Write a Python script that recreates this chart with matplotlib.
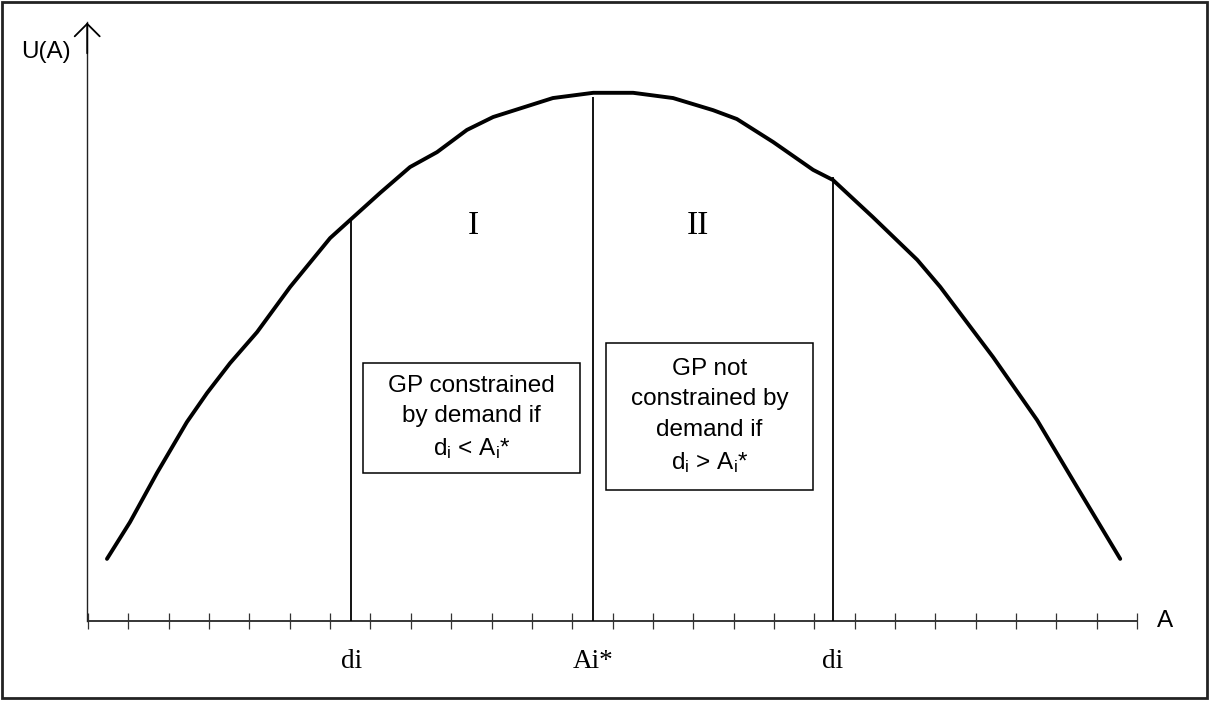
import numpy as np
import matplotlib
matplotlib.use("Agg")
import matplotlib.pyplot as plt
from matplotlib.patches import Rectangle

plt.rcParams['font.family'] = ['Liberation Sans', 'DejaVu Sans']
plt.rcParams['mathtext.default'] = 'regular'

# utility curve U(A) (A in tick units)
a_vals = [0.47, 1.04, 1.71, 2.45, 2.95, 3.52, 4.19, 5.01, 6.00, 6.52, 7.24,
          7.98, 8.65, 9.39, 10.04, 11.52, 12.52, 13.51, 14.50, 15.49, 16.08,
          16.98, 17.97, 18.46, 19.45, 20.55, 21.12, 22.43, 23.52, 24.51, 25.58]
u_vals = [1.54, 2.45, 3.67, 4.93, 5.65, 6.39, 7.16, 8.28, 9.49, 9.96, 10.61,
          11.25, 11.62, 12.17, 12.49, 12.96, 13.09, 13.09, 12.96, 12.66, 12.44,
          11.87, 11.18, 10.93, 10.01, 8.95, 8.28, 6.54, 4.98, 3.32, 1.54]

# vertical markers
marker_a = [6.52, 12.52, 18.46]
marker_top = [9.96, 12.99, 11.0]
marker_labels = ['di', 'Ai*', 'di']

n_ticks = 27
region_labels = ['I', 'II']
region_a = [9.54, 15.12]

box_texts = ['GP constrained\nby demand if\nd$_i$ < A$_i$*',
             'GP not\nconstrained by\ndemand if\nd$_i$ > A$_i$*']

fig = plt.figure(figsize=(12.11, 7.02), dpi=100)
ax = fig.add_axes([0, 0, 1, 1])
ax.set_xlim(-2.181, 27.83)
ax.set_ylim(-2.007, 15.39)
ax.axis('off')

# axes
ticks = np.arange(n_ticks)
ax.plot([0, n_ticks - 1], [0, 0], color='black', lw=1.1)
ax.vlines(ticks, -0.2, 0.2, color='#333333', lw=0.9)
ax.plot([-0.02, -0.02], [0, 14.85], color='#222222', lw=1.0)
ax.annotate('', xy=(-0.02, 14.9), xytext=(-0.02, 14.0),
            arrowprops=dict(arrowstyle='->,head_length=0.45,head_width=0.45',
                            mutation_scale=20, color='black', lw=1.3))
ax.text(-1.05, 14.1, 'U(A)', fontsize=17.5, ha='center', va='center')
ax.text(26.5, 0.0, 'A', fontsize=17.5, ha='left', va='center')

# curve
ax.plot(a_vals, u_vals, color='black', lw=2.8, solid_joinstyle='round',
        solid_capstyle='round')

# verticals and labels
ax.vlines(marker_a, 0, marker_top, color='black', lw=1.3)
for a, lab in zip(marker_a, marker_labels):
    ax.text(a, -1.0, lab, fontsize=19.5, family='Liberation Serif',
            ha='center', va='center')

for a, lab in zip(region_a, region_labels):
    ax.text(a, 9.8, lab, fontsize=24, family='Liberation Serif',
            ha='center', va='center')

# boxes
boxes = [(6.82, 3.67, 5.37, 2.72), (12.84, 3.25, 5.13, 3.64)]
for (x0, y0, w, h), txt in zip(boxes, box_texts):
    ax.add_patch(Rectangle((x0, y0), w, h, fill=False, ec='black', lw=1.1))
    ax.text(x0 + w / 2, y0 + h / 2, txt, fontsize=17.5, ha='center',
            va='center', linespacing=1.5)

# outer frame
fig.patches.append(Rectangle((0.002, 0.005), 0.995, 0.992, fill=False,
                             ec='#222222', lw=2, transform=fig.transFigure))

fig.savefig('out.png', dpi=100)
